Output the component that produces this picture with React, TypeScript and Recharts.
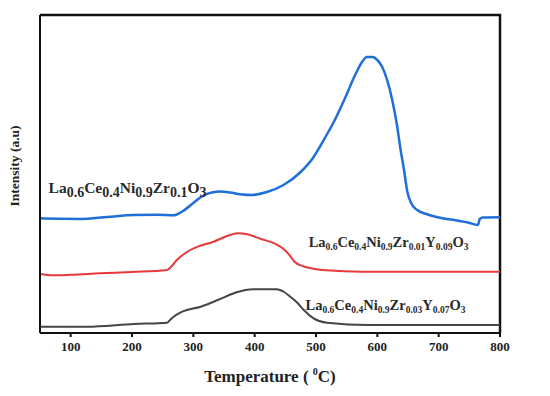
import React from 'react';
import { LineChart, Line, XAxis, YAxis, ReferenceDot } from 'recharts';

const xTicks = [100, 200, 300, 400, 500, 600, 700, 800];

// Zr0.1 sample (blue)
const tBlue = [50, 80, 116, 160, 203, 240, 268, 282, 300, 315, 330, 345, 360, 380, 395, 420, 447, 475, 495, 507, 520, 529, 540, 551, 560, 567, 575, 583, 592, 600, 608, 616, 625, 632, 638, 643, 649, 655, 665, 680, 704, 730, 748, 764, 767, 772, 800];
const iBlue = [114.7, 114.2, 114, 116, 118, 118.2, 117.7, 121.5, 130, 137, 140.5, 141.5, 140.5, 138.5, 138, 141, 148, 161, 175, 187, 201, 211, 225, 240, 253, 262, 271, 276, 276, 273, 266, 253, 231, 208, 183, 165, 141, 130, 123, 119, 115, 112.5, 110.5, 108, 114, 115.5, 115.7];

// Zr0.01Y0.09 sample (red)
const tRed = [50, 71, 100, 148, 200, 257, 265, 273, 285, 295, 310, 333, 355, 372, 388, 410, 432, 449, 458, 465, 478, 492, 510, 530, 585, 800];
const iRed = [59, 57.7, 58.2, 59.7, 61, 63, 67, 73, 79, 83, 87, 91.3, 97, 99.7, 98.7, 94, 89.7, 83, 77, 71.3, 67, 64.7, 63, 62.3, 61.3, 61.3];

// Zr0.03Y0.07 sample (black)
const tBlack = [50, 126, 203, 257, 262, 268, 282, 312, 340, 366, 385, 398, 436, 448, 458, 470, 480, 496, 518, 585, 800];
const iBlack = [6.3, 6.3, 9, 10.3, 13, 16.3, 21.3, 26.3, 33, 39.7, 43, 43.7, 43.7, 41, 36.3, 30, 23, 14.7, 10.3, 8, 8];

const yDomain = [0, 318];
const xDomain = [50, 800];

const build = (t: number[], v: number[]) => t.map((x, i) => ({ t: x, v: v[i] }));
const blueData = build(tBlue, iBlue);
const redData = build(tRed, iRed);
const blackData = build(tBlack, iBlack);
// frame: top edge and right edge of the plot box, built from the axis domains
const frameData = [
  { t: xDomain[0], v: yDomain[1] },
  { t: xDomain[1], v: yDomain[1] },
  { t: xDomain[1], v: yDomain[0] },
];

const FONT = '"Liberation Serif", "Times New Roman", serif';

type Part = [string, boolean];
const blueFormula: Part[] = [['La', false], ['0.6', true], ['Ce', false], ['0.4', true], ['Ni', false], ['0.9', true], ['Zr', false], ['0.1', true], ['O', false], ['3', true]];
const redFormula: Part[] = [['La', false], ['0.6', true], ['Ce', false], ['0.4', true], ['Ni', false], ['0.9', true], ['Zr', false], ['0.01', true], ['Y', false], ['0.09', true], ['O', false], ['3', true]];
const blackFormula: Part[] = [['La', false], ['0.6', true], ['Ce', false], ['0.4', true], ['Ni', false], ['0.9', true], ['Zr', false], ['0.03', true], ['Y', false], ['0.07', true], ['O', false], ['3', true]];

const makeFormulaLabel = (parts: Part[], mainSize: number, subSize: number, subShift: number) => (props: any) => {
  const vb = props.viewBox || {};
  const x = (vb.x ?? 0) + (vb.width ?? 0) / 2;
  const y = (vb.y ?? 0) + (vb.height ?? 0) / 2;
  return (
    <text x={x} y={y} fontFamily={FONT} fontWeight="bold" fill="#2a2a2a" fontSize={mainSize}>
      {parts.map(([s, sub], i) => {
        const prevSub = i > 0 ? parts[i - 1][1] : false;
        let dy = 0;
        if (sub && !prevSub) dy = subShift;
        if (!sub && prevSub) dy = -subShift;
        return (
          <tspan key={i} dy={dy} fontSize={sub ? subSize : mainSize}>{s}</tspan>
        );
      })}
    </text>
  );
};

const XTitle = (props: any) => {
  const vb = props.viewBox || {};
  const cx = (vb.x ?? 0) + (vb.width ?? 0) / 2;
  const y = (vb.y ?? 0) + 49;
  return (
    <text x={cx} y={y} textAnchor="middle" fontFamily={FONT} fontWeight="bold" fontSize={17} fill="#222">
      <tspan>Temperature ( </tspan>
      <tspan fontSize={10} dy={-7}>0</tspan>
      <tspan dy={7}>C)</tspan>
    </text>
  );
};

const YTitle = (props: any) => {
  const vb = props.viewBox || {};
  const x = 19;
  const y = (vb.y ?? 0) + (vb.height ?? 0) / 2 - 8;
  return (
    <text x={x} y={y} transform={`rotate(-90 ${x} ${y})`} textAnchor="middle" fontFamily={FONT} fontWeight="bold" fontSize={13.5} fill="#222">
      Intensity (a.u)
    </text>
  );
};

export default function App() {
  return (
    <div style={{ position: 'relative', margin: -8, width: 550, height: 396, background: '#fff' }}>
      <LineChart width={550} height={396} margin={{ top: 15, right: 50, bottom: 0, left: 0 }}>
        <XAxis
          type="number"
          dataKey="t"
          domain={xDomain}
          ticks={xTicks}
          height={63}
          tickSize={4}
          tickMargin={5}
          axisLine={{ stroke: '#111', strokeWidth: 2 }}
          tickLine={{ stroke: '#111', strokeWidth: 2 }}
          tick={{ fontFamily: FONT, fontWeight: 'bold', fontSize: 13, fill: '#222' }}
          label={{ content: XTitle }}
        />
        <YAxis
          type="number"
          dataKey="v"
          domain={yDomain}
          width={40}
          tick={false}
          tickLine={false}
          axisLine={{ stroke: '#111', strokeWidth: 2 }}
          label={{ content: YTitle }}
        />
        <Line data={frameData} dataKey="v" type="linear" stroke="#111" strokeWidth={2.5} dot={false} activeDot={false} isAnimationActive={false} />
        <Line data={blackData} dataKey="v" type="monotone" stroke="#454545" strokeWidth={2} dot={false} isAnimationActive={false} />
        <Line data={redData} dataKey="v" type="monotone" stroke="#e8383b" strokeWidth={2} dot={false} isAnimationActive={false} />
        <Line data={blueData} dataKey="v" type="monotone" stroke="#1f6fd8" strokeWidth={2.5} dot={false} isAnimationActive={false} />
        <ReferenceDot x={64} y={140} r={0} fill="none" stroke="none" label={{ content: makeFormulaLabel(blueFormula, 15.5, 14, 4) }} />
        <ReferenceDot x={488} y={86} r={0} fill="none" stroke="none" label={{ content: makeFormulaLabel(redFormula, 14.5, 9.5, 3) }} />
        <ReferenceDot x={483} y={23} r={0} fill="none" stroke="none" label={{ content: makeFormulaLabel(blackFormula, 14.5, 9.5, 3) }} />
      </LineChart>
    </div>
  );
}
